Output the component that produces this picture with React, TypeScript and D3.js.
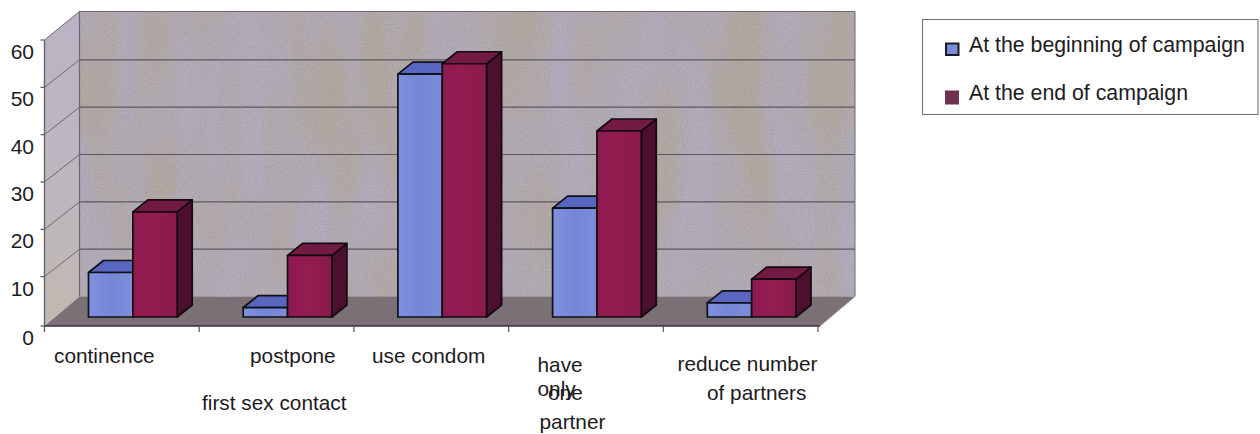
import React from "react";
import * as d3 from "d3";

// Survey answers, percent of respondents per intended behaviour
const categories = ["continence", "postpone first sex contact", "use condom", "have only one partner", "reduce number of partners"];
const seriesNames = ["At the beginning of campaign", "At the end of campaign"];
const beginningValues = [9.4, 2, 51.3, 23, 3];
const endValues = [22.2, 13, 53.5, 39.3, 8];
const yTicks = [0, 10, 20, 30, 40, 50, 60];

// Broken-up axis captions, one entry per fragment
const captionFragments = ["continence", "postpone", "first sex contact", "use condom", "have", "only", "one", "partner", "reduce number", "of partners"];
const captionAnchors: [number, number][] = [
  [54, 363], [250, 363], [202, 410], [372, 363], [537.5, 372], [537.5, 396], [548, 400], [539.5, 429], [677.5, 371], [707, 400],
];

const W = 1260;
const H = 434;
const DEPTH_X = 35;
const DEPTH_Y = 27.5;
const PLANE_X = 11;
const PLANE_Y = 7;
const BAR_DX = 15;
const BAR_DY = 12;
const FLOOR_FRONT = 326;
const FONT = "'Liberation Sans', Arial, sans-serif";
const INK = "#1d1a1e";

const palette = [
  { front: "url(#blueFront)", top: "#5866bf", side: "#46509c", stroke: "#101018" },
  { front: "url(#redFront)", top: "#731a43", side: "#4c0f2d", stroke: "#140a10" },
];

const xBand = d3.scaleBand<string>().domain(categories).range([44.5, 818]);
const xSeries = d3.scaleBand<string>().domain(seriesNames).range([33, xBand.bandwidth() - 33]);
const y = d3.scaleLinear().domain([0, 60]).range([324, 40]);

const pts = (p: [number, number][]) => p.map((d) => d.join(",")).join(" ");

function Bar({ cat, s, value }: { cat: string; s: number; value: number }) {
  const c = palette[s];
  const x0 = (xBand(cat) as number) + (xSeries(seriesNames[s]) as number) + PLANE_X;
  const x1 = x0 + xSeries.bandwidth();
  const yTop = y(value) - PLANE_Y;
  const yBase = y(0) - PLANE_Y;
  const common = { stroke: c.stroke, strokeWidth: 1.7, strokeLinejoin: "round" as const };
  return (
    <g>
      <polygon points={pts([[x1, yTop], [x1 + BAR_DX, yTop - BAR_DY], [x1 + BAR_DX, yBase - BAR_DY], [x1, yBase]])} fill={c.side} {...common} />
      <polygon points={pts([[x0, yTop], [x0 + BAR_DX, yTop - BAR_DY], [x1 + BAR_DX, yTop - BAR_DY], [x1, yTop]])} fill={c.top} {...common} />
      <rect x={x0} y={yTop} width={x1 - x0} height={yBase - yTop} fill={c.front} {...common} />
    </g>
  );
}

export default function App() {
  const left = 44.5;
  const right = 818;
  const wallTop = 11.5;
  const wallBottom = y(0) - DEPTH_Y;
  const wall = { x: left + DEPTH_X, y: wallTop, width: right - left + 2, height: wallBottom - wallTop };
  return (
    <svg width={W} height={H} viewBox={`0 0 ${W} ${H}`} style={{ position: "absolute", left: 0, top: 0, background: "#fff" }}>
      <defs>
        <linearGradient id="blueFront" x1="0" x2="1" y1="0" y2="0">
          <stop offset="0" stopColor="#7f90df" />
          <stop offset="0.5" stopColor="#7586d6" />
          <stop offset="1" stopColor="#7c8dd8" />
        </linearGradient>
        <linearGradient id="redFront" x1="0" x2="1" y1="0" y2="0">
          <stop offset="0" stopColor="#8e1b50" />
          <stop offset="0.5" stopColor="#931c50" />
          <stop offset="1" stopColor="#881a4c" />
        </linearGradient>
        <linearGradient id="sideWall" x1="0" x2="0" y1="0" y2="1">
          <stop offset="0" stopColor="#b9b4c4" />
          <stop offset="0.55" stopColor="#bdb7bf" />
          <stop offset="1" stopColor="#c1b9b0" />
        </linearGradient>
        {/* Printed paper mottling: broad beige patches plus a fine grain */}
        <filter id="blotches" x="0" y="0" width="100%" height="100%" colorInterpolationFilters="sRGB">
          <feTurbulence type="fractalNoise" baseFrequency="0.022 0.006" numOctaves={2} seed={7} />
          <feColorMatrix type="matrix" values="0 0 0 0 0.70  0 0 0 0 0.665  0 0 0 0 0.62  2.4 0 0 0 -0.85" />
        </filter>
        <filter id="grain" x="0" y="0" width="100%" height="100%" colorInterpolationFilters="sRGB">
          <feTurbulence type="fractalNoise" baseFrequency="0.7" numOctaves={1} seed={3} />
          <feColorMatrix type="matrix" values="0 0 0 0 0.55  0 0 0 0 0.53  0 0 0 0 0.58  0 0.9 0 0 -0.36" />
        </filter>
      </defs>

      {/* Back wall */}
      <rect {...wall} fill="#b3adbc" />
      <rect {...wall} filter="url(#blotches)" />
      <rect {...wall} filter="url(#grain)" />

      {/* Left wall */}
      <polygon points={pts([[left, y(60)], [left + DEPTH_X, wallTop], [left + DEPTH_X, wallBottom], [left, FLOOR_FRONT]])} fill="url(#sideWall)" />

      {/* Floor */}
      <polygon points={pts([[left, FLOOR_FRONT], [left + DEPTH_X, wallBottom], [855, wallBottom], [right + 2, FLOOR_FRONT]])} fill="#7a7076" />

      {/* Gridlines run across the back wall and slant along the left wall */}
      {yTicks.map((t) => {
        const tickY = t === 0 ? FLOOR_FRONT : y(t);
        return (
          <g key={t} fill="none">
            {t > 0 && t < 60 && <line x1={left + DEPTH_X} x2={855} y1={y(t) - DEPTH_Y} y2={y(t) - DEPTH_Y} stroke="#5d5762" strokeWidth={1.1} />}
            {t > 0 && t < 60 && <line x1={left} x2={left + DEPTH_X} y1={y(t)} y2={y(t) - DEPTH_Y} stroke="#6d6872" strokeWidth={1} />}
            <line x1={left - 4} x2={left} y1={tickY} y2={tickY} stroke="#57535a" strokeWidth={1.2} />
            <text x={34} y={tickY + (t === 0 ? 18.5 : 19)} textAnchor="end" fontFamily={FONT} fontSize={21} fill={INK} stroke="none">{t}</text>
          </g>
        );
      })}

      {/* Wall and floor outlines */}
      <line x1={left + DEPTH_X} x2={left + DEPTH_X} y1={wallTop} y2={wallBottom} stroke="#6d6872" strokeWidth={1.2} />
      <line x1={855} x2={855} y1={wallTop} y2={wallBottom} stroke="#6d6872" strokeWidth={1} />
      <line x1={left + DEPTH_X} x2={855} y1={wallTop} y2={wallTop} stroke="#6d6872" strokeWidth={1.2} />
      <line x1={left} x2={left} y1={y(60)} y2={FLOOR_FRONT} stroke="#66626a" strokeWidth={1.4} />
      <line x1={left} x2={left + DEPTH_X} y1={y(60)} y2={wallTop} stroke="#6d6872" strokeWidth={1} />
      <line x1={right + 2} x2={855} y1={FLOOR_FRONT} y2={wallBottom} stroke="#9a959a" strokeWidth={1} />
      <line x1={left} x2={right + 2} y1={FLOOR_FRONT} y2={FLOOR_FRONT} stroke="#37333a" strokeWidth={1.3} />

      {/* Category ticks */}
      {[...categories.map((c) => xBand(c) as number), right].map((tx) => (
        <line key={tx} x1={tx} x2={tx} y1={FLOOR_FRONT} y2={FLOOR_FRONT + 6} stroke="#57535a" strokeWidth={1.2} />
      ))}

      {/* Bars */}
      {categories.map((cat, i) => (
        <g key={cat}>
          <Bar cat={cat} s={0} value={beginningValues[i]} />
          <Bar cat={cat} s={1} value={endValues[i]} />
        </g>
      ))}

      {/* Category captions */}
      {captionFragments.map((t, i) => (
        <text key={t} x={captionAnchors[i][0]} y={captionAnchors[i][1]} fontFamily={FONT} fontSize={20.8} fill={INK}>{t}</text>
      ))}

      {/* Legend */}
      <rect x={922.5} y={19.5} width={335.5} height={95} fill="#fff" stroke="#77757a" strokeWidth={1.1} />
      <rect x={946} y={43.5} width={12.5} height={11.5} fill="#7b8bd8" stroke="#1b1a26" strokeWidth={2} />
      <rect x={945} y={90.5} width={14} height={14} fill="#70304f" />
      <text x={969} y={52} fontFamily={FONT} fontSize={21.3} fill={INK}>{seriesNames[0]}</text>
      <text x={969} y={100} fontFamily={FONT} fontSize={21.3} fill={INK}>{seriesNames[1]}</text>
    </svg>
  );
}
